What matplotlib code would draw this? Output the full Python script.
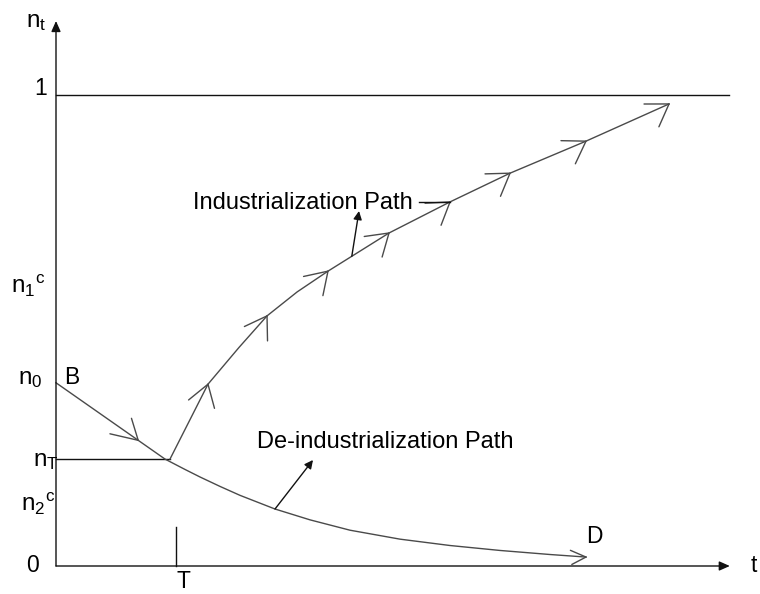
import numpy as np
import matplotlib
matplotlib.use("Agg")
import matplotlib.pyplot as plt

# ---------------- data (schematic units: time, industrial share n_t) ----------------
n0 = 0.389          # initial share (point B)
nT = 0.227          # threshold share n_T
T = 2.0             # threshold time
t_end = 11.23       # end of time axis
one_end = 11.22     # end of the n_t = 1 line

# industrialization path (arrow tips) and extra read-off points between them
ind_t = [1.90, 2.533, 3.05, 3.517, 4.02, 4.533, 5.55, 6.567, 7.567, 8.833, 10.217]
ind_n = [0.227, 0.386, 0.464, 0.531, 0.582, 0.626, 0.707, 0.773, 0.834, 0.902, 0.981]
ind_tips = [1, 3, 5, 6, 7, 8, 9, 10]   # indices carrying an open arrowhead
leader_tip = 7                          # tip joined by the label's leader line

deind_t = [0.0, 1.817, 2.15, 2.4, 2.733, 3.067, 3.65, 4.233, 4.9, 5.733, 6.567, 7.4, 8.233, 8.833]
deind_n = [0.389, 0.227, 0.205, 0.189, 0.169, 0.150, 0.121, 0.098, 0.076, 0.057, 0.0435, 0.033, 0.0244, 0.019]

b_arrow_t = 1.37     # where the arrow on the B segment sits
ind_label_src_t = 4.93
deind_label_src_t = 3.65

# ---------------- figure ----------------
plt.rcParams["font.family"] = ["Liberation Sans", "DejaVu Sans"]
plt.rcParams["mathtext.fontset"] = "custom"
plt.rcParams["mathtext.rm"] = "Liberation Sans"
plt.rcParams["mathtext.it"] = "Liberation Sans:italic"

W, H = 760, 594
fig = plt.figure(figsize=(W / 100, H / 100), dpi=100)
ax = fig.add_axes([0, 0, 1, 1])
ax.set_axis_off()
X0, Y0, SX, SY = 56, 566, 60.0, 471.0
ax.set_xlim(-X0 / SX, (W - X0) / SX)
ax.set_ylim((Y0 - H) / SY, Y0 / SY)


def P(xp, yp):
    """pixel position -> data coordinates (layout helper for text)"""
    return ((xp - X0) / SX, (Y0 - yp) / SY)


AX_C = "#111111"
PATH_C = "#4a4a4a"

# axes with filled arrowheads
top = P(56, 21)[1]
ax.annotate("", xy=(0, top), xytext=(0, 0),
            arrowprops=dict(arrowstyle="-|>,head_length=0.45,head_width=0.2",
                            color=AX_C, lw=1.0, shrinkA=0, shrinkB=0, mutation_scale=14))
ax.annotate("", xy=(t_end, 0), xytext=(0, 0),
            arrowprops=dict(arrowstyle="-|>,head_length=0.45,head_width=0.2",
                            color=AX_C, lw=1.0, shrinkA=0, shrinkB=0, mutation_scale=14))

# reference lines
ax.plot([0, one_end], [1, 1], color=AX_C, lw=1.0)
ax.plot([0, ind_t[0]], [nT, nT], color=AX_C, lw=1.0)
ax.plot([T, T], [0, P(0, 527)[1]], color=AX_C, lw=1.0)

# paths
ax.plot(ind_t, ind_n, color=PATH_C, lw=1.0, solid_joinstyle="round")
ax.plot(deind_t, deind_n, color=PATH_C, lw=1.0, solid_joinstyle="round")


def chevron(tip, prev, length, a1, a2, color=PATH_C):
    tr = ax.transData
    tp, pp = tr.transform([tip, prev])
    back = pp - tp
    ang = np.degrees(np.arctan2(back[1], back[0]))
    inv = tr.inverted()
    for a, L in ((a1, length[0]), (a2, length[1])):
        th = np.radians(ang + a)
        end = tp + L * np.array([np.cos(th), np.sin(th)])
        e = inv.transform(end)
        ax.plot([tip[0], e[0]], [tip[1], e[1]], color=color, lw=1.0,
                solid_capstyle="round")


# open arrowheads along the industrialization path
prev_i = 0
for i in ind_tips:
    chevron((ind_t[i], ind_n[i]), (ind_t[prev_i], ind_n[prev_i]), (25, 25), -24, 42)
    prev_i = i

# arrow on segment B
b_n = np.interp(b_arrow_t, deind_t[:2], deind_n[:2])
chevron((b_arrow_t, b_n), (deind_t[0], deind_n[0]), (29, 23), 22, -38)

# arrow at D
chevron((deind_t[-1], deind_n[-1]), (deind_t[-3], deind_n[-3]), (17, 16), -19, 32)

# label leader arrows
src_n = np.interp(ind_label_src_t, ind_t, ind_n)
ax.annotate("", xy=P(359, 211), xytext=(ind_label_src_t, src_n),
            arrowprops=dict(arrowstyle="-|>,head_length=0.5,head_width=0.25",
                            color=AX_C, lw=1.0, shrinkA=0, shrinkB=0, mutation_scale=10))
src_d = np.interp(deind_label_src_t, deind_t, deind_n)
ax.annotate("", xy=P(313, 460), xytext=(deind_label_src_t, src_d),
            arrowprops=dict(arrowstyle="-|>,head_length=0.5,head_width=0.25",
                            color=AX_C, lw=1.0, shrinkA=0, shrinkB=0, mutation_scale=10))
ax.plot([P(419, 0)[0], ind_t[leader_tip]], [ind_n[leader_tip], ind_n[leader_tip]],
        color=AX_C, lw=1.0)

# ---------------- texts ----------------
FS_N = 17.5
FS_AX = 16.5
FS_TXT = 17
lab = dict(ha="left", va="baseline", color="black")
ax.text(*P(26, 27), r"$\mathrm{n}_\mathrm{t}$", fontsize=FS_N, **lab)
ax.text(*P(34, 95), "1", fontsize=FS_AX, **lab)
ax.text(*P(11, 293), r"$\mathrm{n}_\mathrm{1}{}^\mathrm{c}$", fontsize=FS_N, **lab)
ax.text(*P(18, 384), r"$\mathrm{n}_\mathrm{0}$", fontsize=FS_N, **lab)
ax.text(*P(33, 466), r"$\mathrm{n}_\mathrm{T}$", fontsize=FS_N, **lab)
ax.text(*P(21, 511), r"$\mathrm{n}_\mathrm{2}{}^\mathrm{c}$", fontsize=FS_N, **lab)
ax.text(*P(26, 572), "0", fontsize=FS_AX, **lab)
ax.text(*P(64, 384), "B", fontsize=FS_AX, **lab)
ax.text(*P(586, 543), "D", fontsize=FS_AX, **lab)
ax.text(*P(176, 588), "T", fontsize=FS_AX, **lab)
ax.text(*P(751, 572), "t", fontsize=FS_AX, **lab)
ax.text(*P(193, 209), "Industrialization Path", fontsize=FS_TXT, **lab)
ax.text(*P(257, 448), "De-industrialization Path", fontsize=FS_TXT, **lab)

fig.savefig("out.png", dpi=100)
